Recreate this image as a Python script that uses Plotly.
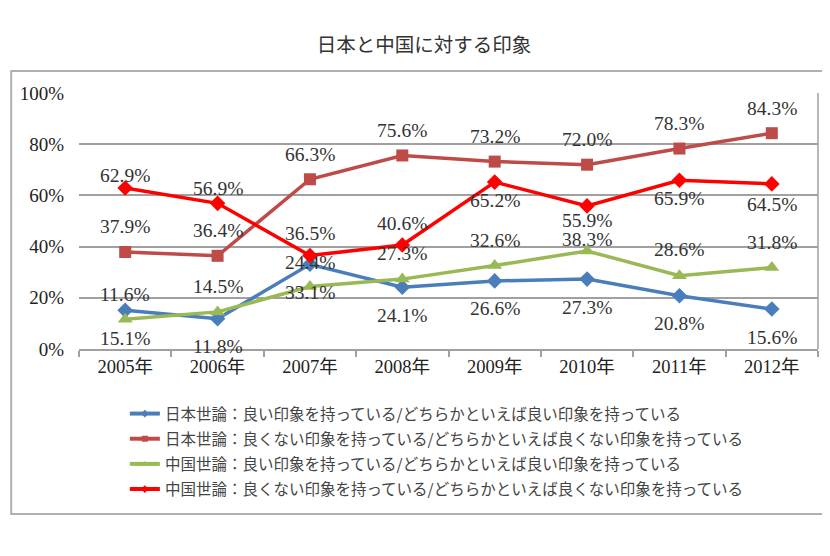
import plotly.graph_objects as go

years = ["2005年", "2006年", "2007年", "2008年", "2009年", "2010年", "2011年", "2012年"]
jp_good = [15.1, 11.8, 33.1, 24.1, 26.6, 27.3, 20.8, 15.6]
jp_bad = [37.9, 36.4, 66.3, 75.6, 73.2, 72.0, 78.3, 84.3]
cn_good = [11.6, 14.5, 24.4, 27.3, 32.6, 38.3, 28.6, 31.8]
cn_bad = [62.9, 56.9, 36.5, 40.6, 65.2, 55.9, 65.9, 64.5]
y_ticks = [0, 20, 40, 60, 80, 100]

names = [
    "日本世論：良い印象を持っている/どちらかといえば良い印象を持っている",
    "日本世論：良くない印象を持っている/どちらかといえば良くない印象を持っている",
    "中国世論：良い印象を持っている/どちらかといえば良い印象を持っている",
    "中国世論：良くない印象を持っている/どちらかといえば良くない印象を持っている",
]
title = "日本と中国に対する印象"

# styles (screen offsets of labels in px, positive = down)
styles = [
    dict(color="#4A7EBB", symbol="diamond", size=12, offs=[28] * 8),
    dict(color="#BE4B48", symbol="square", size=12, offs=[-25] * 8),
    dict(color="#98B954", symbol="triangle-up", size=13, offs=[-25, -25, -24, -26, -25, -11, -26, -25]),
    dict(color="#FF0000", symbol="diamond", size=12, offs=[-12, -15, -22, -22, 18, 15, 18, 21]),
]
series = [jp_good, jp_bad, cn_good, cn_bad]

NUMFONT = "Liberation Serif, Noto Sans CJK JP"
CJK = "Noto Sans CJK JP"

W, H = 830, 556
OFF = 8  # page body margin
# plot area in page pixels
PL, PR, PT, PB = 77, 818, 93, 349
L = PL - OFF
R = W - (PR - OFF)
T = PT - OFF
B = H - (PB - OFF)
pw = W - L - R
ph = H - T - B


def px_x(x):
    return (x - OFF - L) / pw


def px_y(y):
    return (H - B - (y - OFF)) / ph


fig = go.Figure()
annotations = []
for i, (vals, st, nm) in enumerate(zip(series, styles, names)):
    fig.add_trace(go.Scatter(
        x=years, y=vals, name=nm, mode="lines+markers",
        line=dict(color=st["color"], width=3.5),
        marker=dict(symbol=st["symbol"], size=st["size"], color=st["color"]),
        showlegend=False,
    ))
    for xv, yv, off in zip(years, vals, st["offs"]):
        annotations.append(dict(
            x=xv, y=yv, xref="x", yref="y", text=f"{yv:.1f}%",
            showarrow=False, yshift=-off,
            font=dict(family=NUMFONT, size=19.5, color="#333333"),
        ))

# legend entries (small markers, as in the reference)
for i, (st, nm) in enumerate(zip(styles, names)):
    fig.add_trace(go.Scatter(
        x=[None], y=[None], name=nm, mode="lines+markers",
        line=dict(color=st["color"], width=4),
        marker=dict(symbol=st["symbol"], size=6, color=st["color"]),
        legendgroup=f"g{i}", showlegend=True,
    ))

shapes = [
    dict(type="rect", xref="paper", yref="paper",
         x0=px_x(9), x1=px_x(836), y0=px_y(514), y1=px_y(71),
         line=dict(color="#b0b0b0", width=2), fillcolor="rgba(0,0,0,0)", layer="below"),
    dict(type="line", xref="paper", yref="paper", x0=1, x1=1, y0=0, y1=1,
         line=dict(color="#a0a0a0", width=1.5)),
]

fig.update_layout(
    width=W, height=H,
    margin=dict(l=L, r=R, t=T, b=B),
    paper_bgcolor="white", plot_bgcolor="white",
    title=dict(text=title, x=(424 - OFF) / W, xanchor="center", y=1 - (45 - OFF) / H, yanchor="middle",
               font=dict(family=CJK, size=19.5, color="#333333")),
    xaxis=dict(
        type="category", range=[-0.5, 7.5], showgrid=False,
        showline=True, linecolor="#a0a0a0", linewidth=1.5,
        ticks="outside", tickson="boundaries", ticklen=6, tickcolor="#a0a0a0", tickwidth=1.5,
        tickfont=dict(family=NUMFONT, size=18.5, color="#222222"),
        zeroline=False,
    ),
    yaxis=dict(
        range=[0, 100], tickvals=y_ticks, ticktext=[f"{v}%" for v in y_ticks],
        showgrid=True, gridcolor="#a0a0a0", gridwidth=1.5,
        zeroline=False, showline=False, ticks="", ticklabelstandoff=14,
        tickfont=dict(family=NUMFONT, size=19, color="#222222"),
    ),
    legend=dict(
        x=px_x(123), xanchor="left", y=px_y(397), yanchor="top",
        font=dict(family=CJK, size=15.5, color="#444444"),
        tracegroupgap=2, bgcolor="rgba(0,0,0,0)",
    ),
    showlegend=True,
    annotations=annotations,
    shapes=shapes,
)

fig.write_html("out.html")
